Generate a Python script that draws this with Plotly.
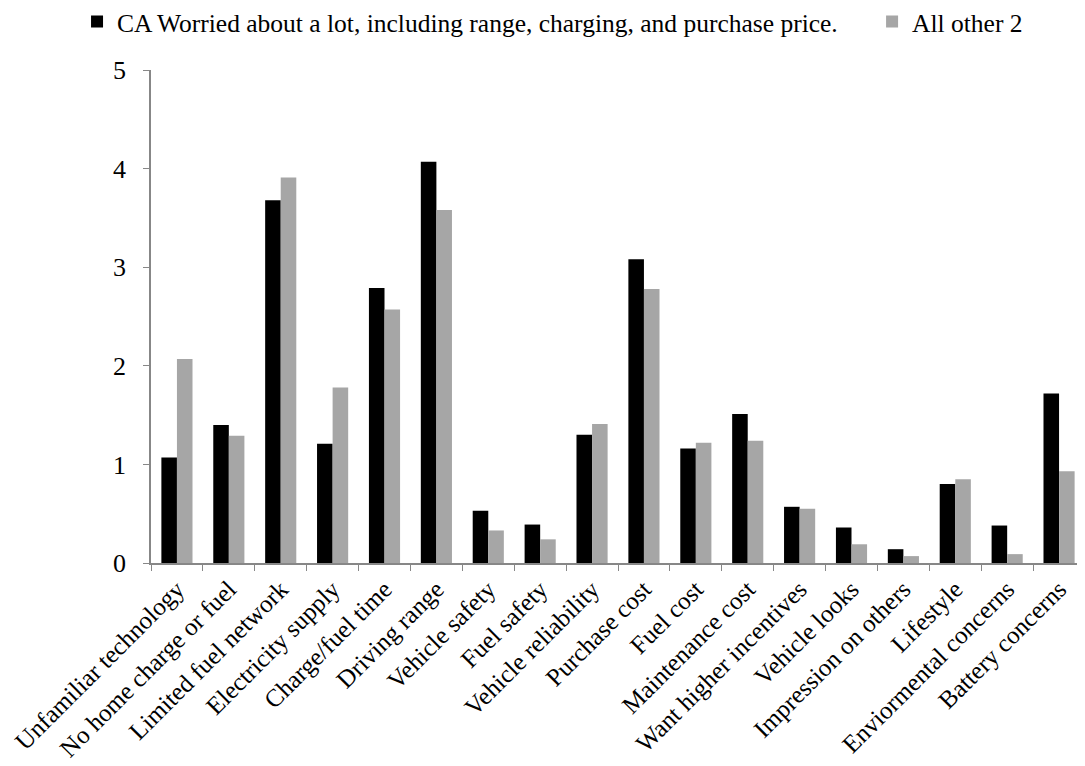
import plotly.graph_objects as go

categories = ["Unfamiliar technology", "No home charge or fuel", "Limited fuel network",
              "Electricity supply", "Charge/fuel time", "Driving range", "Vehicle safety",
              "Fuel safety", "Vehicle reliability", "Purchase cost", "Fuel cost",
              "Maintenance cost", "Want higher incentives", "Vehicle looks",
              "Impression on others", "Lifestyle", "Enviormental concerns", "Battery concerns"]
ca_worried = [1.07, 1.40, 3.68, 1.21, 2.79, 4.07, 0.53, 0.39, 1.30, 3.08, 1.16, 1.51,
              0.57, 0.36, 0.14, 0.80, 0.38, 1.72]
all_other = [2.07, 1.29, 3.91, 1.78, 2.57, 3.58, 0.33, 0.24, 1.41, 2.78, 1.22, 1.24,
             0.55, 0.19, 0.07, 0.85, 0.09, 0.93]
series_names = ["CA Worried about a lot, including range, charging, and purchase price.", "All other 2"]
y_ticks = [0, 1, 2, 3, 4, 5]

FONT = "Liberation Serif, Times New Roman, serif"

fig = go.Figure()
fig.add_trace(go.Bar(x=categories, y=ca_worried, name=series_names[0], legend="legend",
                     marker=dict(color="#000000", line=dict(width=0))))
fig.add_trace(go.Bar(x=categories, y=all_other, name=series_names[1], legend="legend2",
                     marker=dict(color="#A6A6A6", line=dict(width=0))))

legend_common = dict(orientation="h", xref="container", yref="container",
                     xanchor="left", yanchor="middle", bgcolor="rgba(0,0,0,0)",
                     font=dict(family=FONT, size=25.5, color="black"),
                     itemwidth=30, tracegroupgap=0)

fig.update_layout(
    width=1077, height=758,
    margin=dict(l=143, r=0, t=62, b=203, autoexpand=False),
    paper_bgcolor="white", plot_bgcolor="white",
    barmode="group", bargap=0.4, bargroupgap=0.0,
    font=dict(family=FONT, size=25, color="black"),
    legend=dict(x=0.0641, y=0.9815, **legend_common),
    legend2=dict(x=0.8023, y=0.9815, **legend_common),
    showlegend=True,
)
fig.update_xaxes(
    showline=True, linecolor="#878787", linewidth=1.5, automargin=False,
    ticks="outside", tickson="boundaries", ticklen=6, tickcolor="#878787",
    tickangle=-45, tickfont=dict(family=FONT, size=25, color="black"),
    showgrid=False,
)
fig.update_yaxes(
    range=[0, 5], tickvals=y_ticks, showline=True, linecolor="#878787", linewidth=1.5,
    automargin=False,
    ticks="outside", ticklen=6, tickcolor="#878787", showgrid=False, zeroline=False,
    tickfont=dict(family=FONT, size=26, color="black"), ticklabelstandoff=12,
)

fig.write_html("out.html")
